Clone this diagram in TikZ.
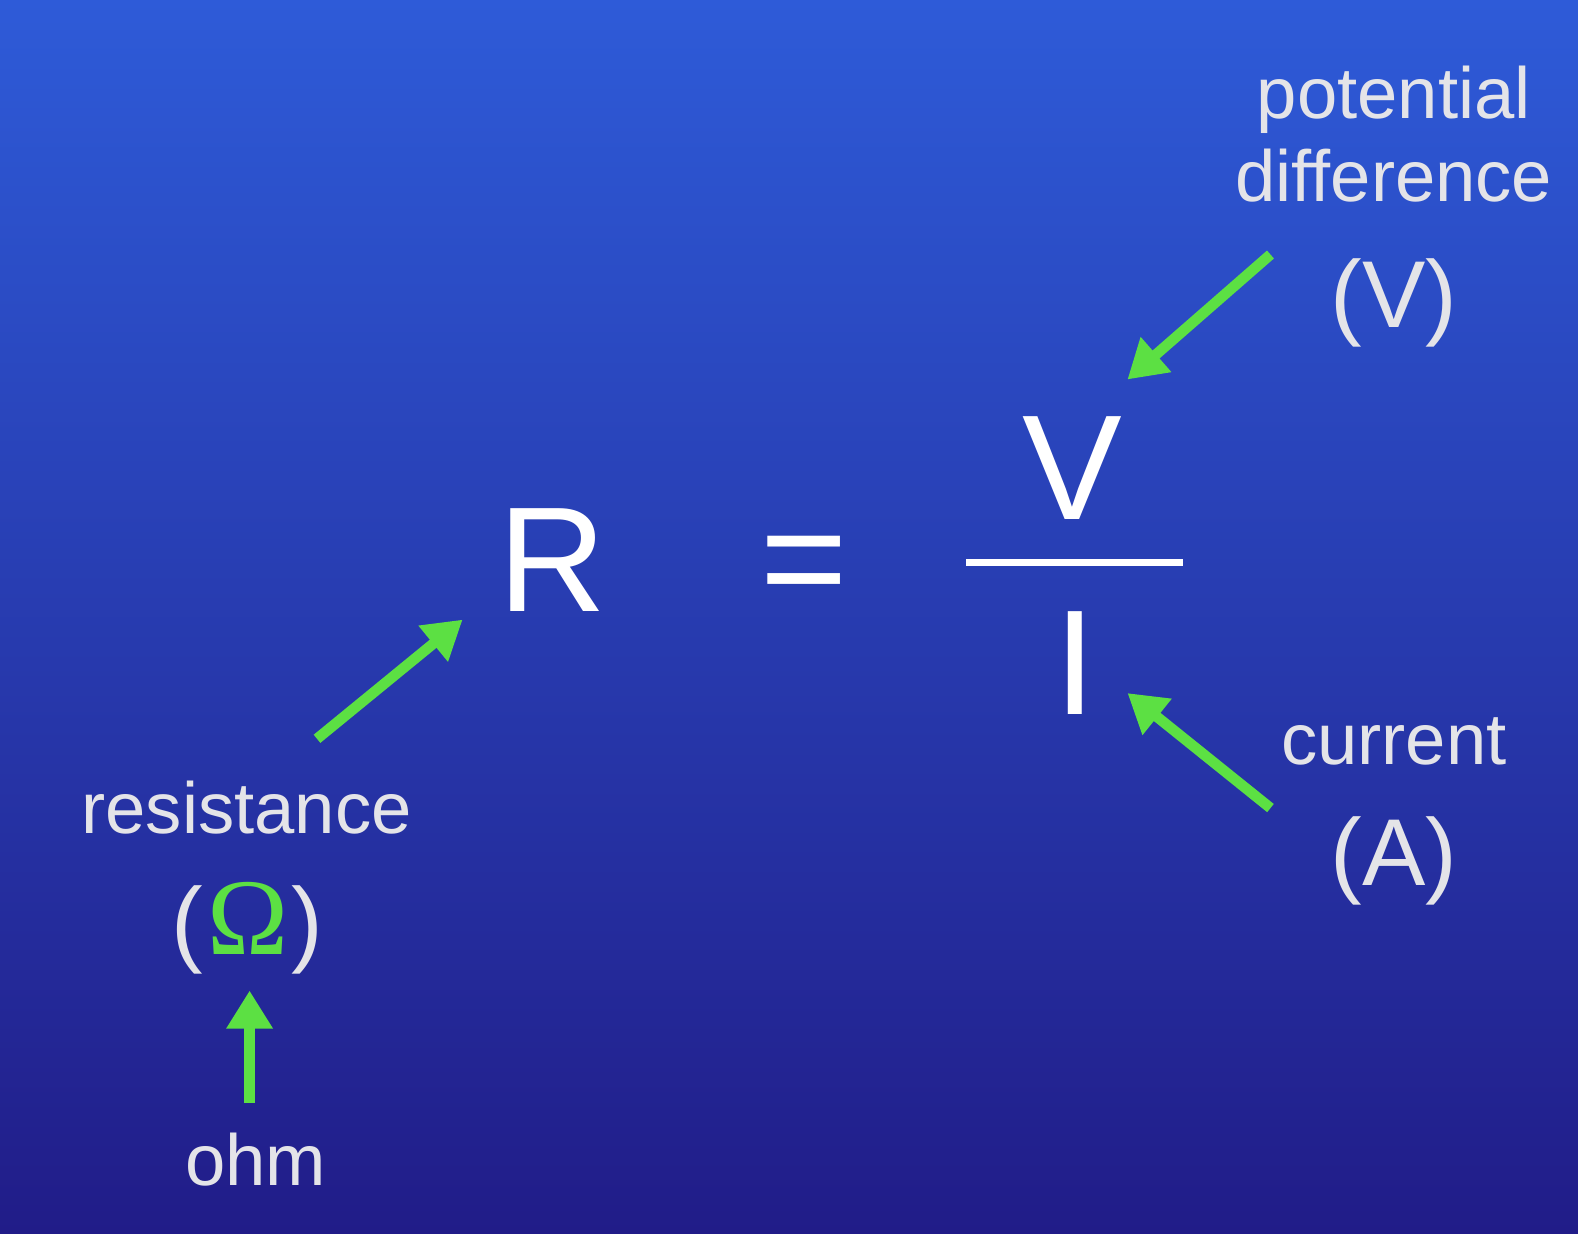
\documentclass[tikz,border=0pt]{standalone}
\usepackage{fontspec}
\setmainfont{Liberation Sans}
\newfontfamily\omegafont{Liberation Serif}
\usetikzlibrary{arrows.meta,calc}
\definecolor{bgtop}{HTML}{2E5BD8}
\definecolor{bgbottom}{HTML}{211C88}
\definecolor{arrowgreen}{HTML}{5CE043}
\definecolor{labeltext}{HTML}{E4E4E8}

\begin{document}
\begin{tikzpicture}[x=0.01006cm, y=-0.01006cm,
    symbol/.style={font=\fontsize{42.5}{50}\selectfont, text=white, inner sep=0pt, anchor=base},
    lbl/.style={font=\fontsize{20.6}{24}\selectfont, text=labeltext, inner sep=0pt, anchor=base},
    unit/.style={font=\fontsize{27}{30}\selectfont, text=labeltext, inner sep=0pt, anchor=base},
    pointer/.style={-{Triangle[length=0.38cm, width=0.44cm]}, line width=3pt, draw=arrowgreen}]
    % Background
    \shade[top color=bgtop, bottom color=bgbottom] (0,0) rectangle (1568,1226);

    % Formula R = V / I
    \node[symbol] (R) at (549,608) {R};
    \node[symbol] (eq) at (799,606) {=};
    \node[symbol] (V) at (1066,516) {V};
    \node[symbol] (I) at (1068,710) {I};
    \draw[white, line width=2pt] (960,559) -- (1175,559);

    % Labels
    \node[lbl] (pot) at (1385,118) {potential};
    \node[lbl] (diff) at (1385,200) {difference};
    \node[unit] (pv) at (1385,325) {(V)};
    \node[lbl] (cur) at (1385,760) {current};
    \node[unit] (pa) at (1385,880) {(A)};
    \node[lbl] (res) at (245,828) {resistance};
    \node[unit] (po) at (246,948) {(\textcolor{arrowgreen}{\omegafont\fontsize{31}{34}\selectfont\hspace{1pt}Ω\hspace{1pt}})};
    \node[lbl] (ohm) at (254,1178) {ohm};

    % Pointers
    \draw[pointer] ([shift={(-59,-3)}]pv.north west) -- ([shift={(4,-36)}]V.north east);
    \draw[pointer] ([shift={(-59,-8)}]pa.north west) -- ([shift={(31,-22)}]I.south east);
    \draw[pointer] ([shift={(70,-41)}]res.north) -- ([shift={(-35,7)}]R.south west);
    \draw[pointer] ([shift={(-6,-29)}]ohm.north) -- ([shift={(2,16)}]po.south);
\end{tikzpicture}
\end{document}
